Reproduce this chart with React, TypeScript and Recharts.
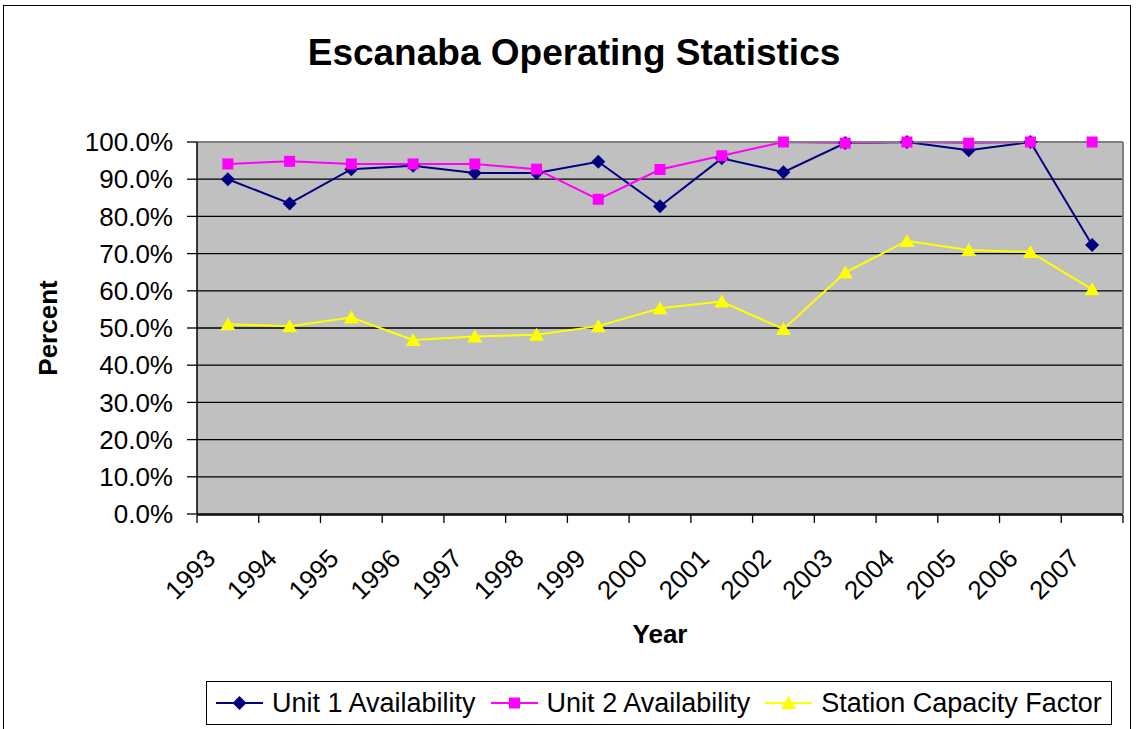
import { LineChart, Line, XAxis, YAxis, CartesianGrid, Legend } from 'recharts';

// values, in percent
const years = ['1993', '1994', '1995', '1996', '1997', '1998', '1999', '2000', '2001', '2002', '2003', '2004', '2005', '2006', '2007'];
const unit1 = [90.0, 83.5, 92.7, 93.6, 91.7, 91.7, 94.7, 82.7, 95.6, 91.9, 99.7, 100, 97.8, 100, 72.3];
const unit2 = [94.1, 94.8, 94.1, 94.1, 94.1, 92.7, 84.6, 92.6, 96.3, 100, 99.7, 100, 99.7, 100, 100];
const capacity = [51.0, 50.5, 52.8, 46.8, 47.7, 48.2, 50.5, 55.3, 57.1, 49.7, 64.9, 73.4, 71.0, 70.4, 60.4];
const yTicks = [0, 10, 20, 30, 40, 50, 60, 70, 80, 90, 100];
const bandEdges = Array.from({ length: years.length + 1 }, (_, i) => i);
const legendOrder = ['unit1', 'unit2', 'capacity'];

// slot = middle of each category band on the numeric "edges" axis
const data = years.map((year, i) => ({
  year,
  slot: i + 0.5,
  unit1: unit1[i],
  unit2: unit2[i],
  capacity: capacity[i],
}));

const FONT = '"Liberation Sans", Arial, sans-serif';
const NAVY = '#000080';
const MAGENTA = '#FF00FF';
const YELLOW = '#FFFF00';

const W = 1139;
const H = 729;
const LEFT = 197;
const RIGHT = 16;
const TOP = 142;
const BOTTOM = 215;
const EDGE_AXIS_H = 100;
const halfBand = (W - LEFT - RIGHT) / years.length / 2;

const Diamond = ({ cx, cy, fill }: any) =>
  cx == null ? null : <polygon points={`${cx},${cy - 7} ${cx + 7},${cy} ${cx},${cy + 7} ${cx - 7},${cy}`} fill={fill} />;
const Square = ({ cx, cy, fill }: any) =>
  cx == null ? null : <rect x={cx - 5.5} y={cy - 5.5} width={11} height={11} fill={fill} />;
const Triangle = ({ cx, cy, fill }: any) =>
  cx == null ? null : <polygon points={`${cx},${cy - 7} ${cx + 7.5},${cy + 6} ${cx - 7.5},${cy + 6}`} fill={fill} />;

const markers: Record<string, any> = { unit1: Diamond, unit2: Square, capacity: Triangle };

const YearTick = ({ x, y, payload }: any) => {
  const ax = x - 11;
  const ay = y + 46;
  return (
    <text
      x={ax}
      y={ay}
      textAnchor="end"
      transform={`rotate(-45 ${ax} ${ay})`}
      fontSize={26}
      fontFamily={FONT}
      fill="#000"
    >
      {payload.value}
    </text>
  );
};

// legend box like the Excel one: line + marker, then the name
const LegendBox = ({ payload }: any) => {
  const items = [...(payload || [])].sort(
    (a: any, b: any) => legendOrder.indexOf(a.dataKey) - legendOrder.indexOf(b.dataKey)
  );
  return (
    <div
      style={{
        border: '1px solid #000',
        height: 42,
        display: 'flex',
        alignItems: 'center',
        paddingLeft: 9,
        background: '#fff',
        fontFamily: FONT,
        fontSize: 27,
        whiteSpace: 'nowrap',
      }}
    >
      {items.map((entry: any) => {
        const Mark = markers[entry.dataKey];
        return (
          <div key={entry.dataKey} style={{ display: 'flex', alignItems: 'center', marginRight: 15 }}>
            <svg width={47} height={20} style={{ marginRight: 9 }}>
              <line x1={0} y1={10} x2={47} y2={10} stroke={entry.color} strokeWidth={2} />
              <Mark cx={23.5} cy={10} fill={entry.color} />
            </svg>
            <span>{entry.value}</span>
          </div>
        );
      })}
    </div>
  );
};

const App = () => {
  return (
    <div style={{ position: 'absolute', left: 0, top: 0, width: W, height: H, overflow: 'hidden', background: '#fff' }}>
      {/* outer chart frame */}
      <div style={{ position: 'absolute', left: 3, top: 5, width: 1126, height: 800, border: '1px solid #000' }} />
      <div
        style={{
          position: 'absolute',
          left: 574 - 400,
          width: 800,
          top: 34,
          textAlign: 'center',
          fontFamily: FONT,
          fontWeight: 'bold',
          fontSize: 37,
          lineHeight: '37px',
        }}
      >
        Escanaba Operating Statistics
      </div>
      <LineChart
        width={W}
        height={H}
        data={data}
        margin={{ top: TOP - 1, right: RIGHT - 1, bottom: BOTTOM - 1 - EDGE_AXIS_H, left: 0 }}
        style={{ position: 'absolute', left: 0, top: 0 }}
      >
        <CartesianGrid vertical={false} fill="#C0C0C0" stroke="#000" strokeWidth={1.3} yAxisId="left" />
        {/* category axis: year labels at band centres */}
        <XAxis
          dataKey="year"
          height={1}
          padding={{ left: halfBand, right: halfBand }}
          axisLine={false}
          tickLine={false}
          tickSize={0}
          tickMargin={0}
          interval={0}
          tick={<YearTick />}
        />
        {/* band edges: axis line, boundary ticks and the axis title */}
        <XAxis
          xAxisId="edges"
          dataKey="slot"
          type="number"
          domain={[0, years.length]}
          ticks={bandEdges}
          interval={0}
          allowDataOverflow
          height={EDGE_AXIS_H}
          tickSize={8}
          tickFormatter={() => ''}
          axisLine={{ stroke: '#000', strokeWidth: 1.5 }}
          tickLine={{ stroke: '#000', strokeWidth: 1.3 }}
          label={{
            content: ({ viewBox }: any) => (
              <text
                x={viewBox.x + viewBox.width / 2}
                y={viewBox.y + 128}
                textAnchor="middle"
                fontSize={26}
                fontWeight="bold"
                fontFamily={FONT}
              >
                Year
              </text>
            ),
          }}
        />
        <XAxis xAxisId="top" orientation="top" type="number" domain={[0, 1]} height={1} tick={false} tickLine={false} axisLine={{ stroke: '#808080', strokeWidth: 2 }} />
        <YAxis
          yAxisId="left"
          width={LEFT}
          domain={[0, 100]}
          ticks={yTicks}
          interval={0}
          tickFormatter={(v: number) => `${v.toFixed(1)}%`}
          tickSize={10}
          tickMargin={14}
          tick={{ fontSize: 26, fontFamily: FONT, fill: '#000' }}
          axisLine={{ stroke: '#000', strokeWidth: 1.5 }}
          tickLine={{ stroke: '#000', strokeWidth: 1.3 }}
          label={{
            content: ({ viewBox }: any) => {
              const cx = viewBox.x + 48;
              const cy = viewBox.y + viewBox.height / 2;
              return (
                <text
                  x={cx}
                  y={cy}
                  textAnchor="middle"
                  dominantBaseline="central"
                  transform={`rotate(-90 ${cx} ${cy})`}
                  fontSize={26}
                  fontWeight="bold"
                  fontFamily={FONT}
                >
                  Percent
                </text>
              );
            },
          }}
        />
        <YAxis yAxisId="right" orientation="right" width={1} domain={[0, 100]} tick={false} tickLine={false} axisLine={{ stroke: '#808080', strokeWidth: 2 }} />
        <Legend
          verticalAlign="middle"
          align="center"
          wrapperStyle={{ position: 'absolute', left: 206, top: 681, width: 906, height: 44 }}
          content={<LegendBox />}
        />
        <Line
          yAxisId="left"
          dataKey="unit1"
          name="Unit 1 Availability"
          stroke={NAVY}
          strokeWidth={2}
          dot={<Diamond fill={NAVY} />}
          activeDot={false}
          isAnimationActive={false}
        />
        <Line
          yAxisId="left"
          dataKey="unit2"
          name="Unit 2 Availability"
          stroke={MAGENTA}
          strokeWidth={2}
          dot={<Square fill={MAGENTA} />}
          activeDot={false}
          isAnimationActive={false}
        />
        <Line
          yAxisId="left"
          dataKey="capacity"
          name="Station Capacity Factor"
          stroke={YELLOW}
          strokeWidth={2}
          dot={<Triangle fill={YELLOW} />}
          activeDot={false}
          isAnimationActive={false}
        />
      </LineChart>
    </div>
  );
};

export default App;
